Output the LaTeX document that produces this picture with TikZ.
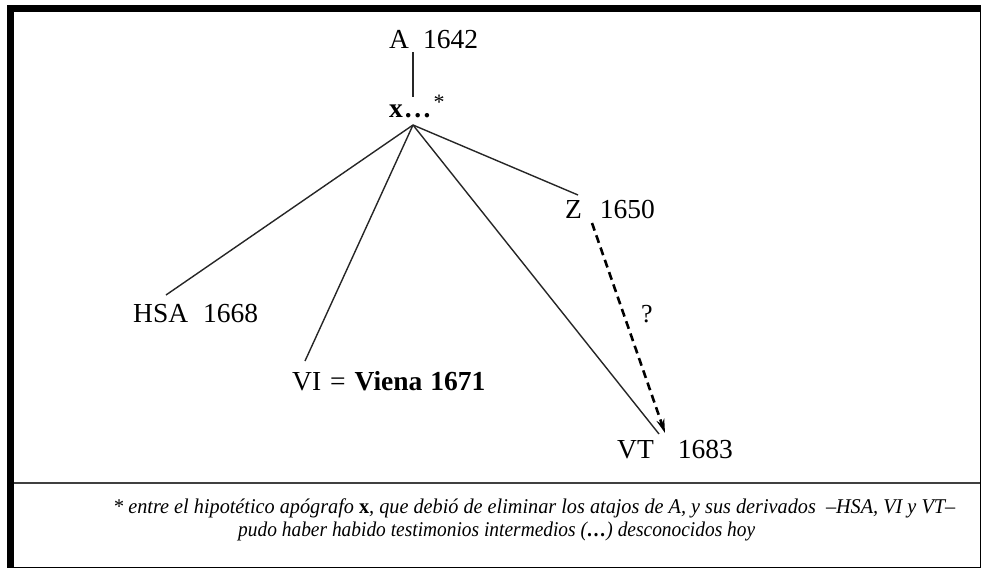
\documentclass[tikz,border=0pt]{standalone}
\usepackage{fontspec}
\setmainfont{Liberation Serif}
\usetikzlibrary{arrows.meta}
\begin{document}
\begin{tikzpicture}[x=1pt,y=-1pt,
  lbl/.style={anchor=base west,inner sep=0pt,font=\fontsize{27.5}{30}\selectfont},
  foot/.style={anchor=base west,inner sep=0pt,font=\fontsize{21}{24}\selectfont\itshape},
  edge/.style={line width=1.4pt,black!85},
  dashedge/.style={line width=2.6pt,dash pattern=on 8pt off 5pt,-{Stealth[length=14pt,width=8pt]}}]
\useasboundingbox (0,0) rectangle (982,570);
% frame
\fill (7,5) rectangle (14,568);
\fill (7,5) rectangle (981,12);
\draw[line width=1.2pt] (14,567.5) -- (980.4,567.5) -- (980.4,12);
\draw[line width=1.5pt,black!75] (14,483) -- (980,483);
% labels
\node[lbl] (A) at (389,48) {A\hspace{14pt}1642};
\node[lbl] (X) at (389,117) {\textbf{x\kern2pt.\kern2.5pt.\kern2.5pt.}\kern3pt\raisebox{8pt}{\fontsize{22}{22}\selectfont*}};
\node[lbl] (Z) at (565,218) {Z\hspace{18pt}1650};
\node[lbl] (HSA) at (133,322) {HSA\hspace{15pt}1668};
\node[lbl] (VI) at (292,390) {VI\hspace{9pt}=\hspace{9pt}\textbf{Viena\hspace{8pt}1671}};
\node[lbl] (VT) at (617,458) {VT\hspace{24pt}1683};
\node[lbl,font=\fontsize{26}{28}\selectfont] (Q) at (641,322) {?};
% connector end points
\coordinate (aBot) at (413,52);
\coordinate (xTop) at (413,97);
\coordinate (apex) at (413,125);
\coordinate (hsaEnd) at (166,295);
\coordinate (viEnd) at (305,361);
\coordinate (vtEnd) at (659,434);
\coordinate (zEnd) at (578,195);
\coordinate (zDash) at (592,223);
\coordinate (vtTip) at (665,433);
% connectors
\draw[edge,line width=1.7pt] (aBot) -- (xTop);
\draw[edge] (apex) -- (hsaEnd);
\draw[edge] (apex) -- (viEnd);
\draw[edge] (apex) -- (vtEnd);
\draw[edge] (apex) -- (zEnd);
\draw[dashedge] (zDash) -- (vtTip);
% footnote
\node[foot] (f1) at (113,513) {\resizebox{842pt}{\height}{* entre el hipotético apógrafo \textbf{\upshape x}, que debió de eliminar los atajos de \textit{A}, y sus derivados \ –HSA, VI y VT–}};
\node[foot] (f2) at (238,536) {\resizebox{517pt}{\height}{pudo haber habido testimonios intermedios (\textbf{…}) desconocidos hoy}};
\end{tikzpicture}
\end{document}
